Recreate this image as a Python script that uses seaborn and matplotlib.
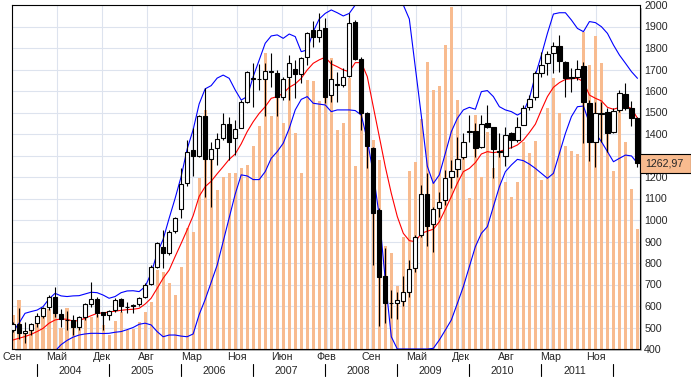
import numpy as np
import pandas as pd
import matplotlib
matplotlib.use("Agg")
import matplotlib.pyplot as plt
import matplotlib.transforms as mtransforms
from matplotlib.patches import Rectangle
import seaborn as sns

# monthly candles, Sep 2003 .. May 2012
opens = [490, 515, 473, 488, 520, 555, 594, 642, 563, 537, 535, 504, 550, 609, 633, 571, 560, 582, 633, 597,
         600, 609, 640, 702, 783, 876, 845, 947, 1050, 1171, 1326, 1299, 1484, 1282, 1333, 1380, 1445, 1380, 1430, 1550,
         1660, 1655, 1654, 1690, 1682, 1574, 1664, 1701, 1679, 1757, 1884, 1850, 1891, 1581, 1628, 1626, 1670, 1921, 1747, 1496,
         1333, 1047, 740, 612, 616, 625, 664, 775, 930, 1119, 981, 1054, 1093, 1198, 1236, 1291, 1410, 1414, 1338, 1450,
         1431, 1318, 1298, 1403, 1372, 1442, 1527, 1571, 1685, 1732, 1778, 1809, 1735, 1662, 1664, 1716, 1543, 1364, 1495, 1501,
         1408, 1512, 1585, 1519, 1473]
highs = [525, 590, 527, 523, 566, 597, 650, 690, 585, 577, 558, 555, 613, 710, 643, 574, 581, 636, 639, 620,
         608, 640, 709, 791, 899, 954, 953, 1016, 1240, 1372, 1426, 1488, 1612, 1364, 1403, 1496, 1481, 1465, 1558, 1695,
         1729, 1726, 1729, 1775, 1698, 1667, 1767, 1744, 1760, 1876, 1927, 1964, 1938, 1744, 1690, 1705, 1961, 1930, 1760, 1504,
         1341, 1054, 868, 674, 667, 740, 814, 930, 1163, 1220, 1062, 1132, 1233, 1279, 1388, 1406, 1488, 1450, 1488, 1535,
         1434, 1403, 1434, 1411, 1481, 1535, 1581, 1695, 1783, 1788, 1829, 1860, 1741, 1705, 1744, 1736, 1558, 1550, 1550, 1519,
         1519, 1605, 1639, 1553, 1481]
lows = [480, 445, 427, 465, 501, 543, 582, 550, 504, 489, 465, 489, 535, 597, 550, 488, 535, 574, 574, 566,
        566, 600, 636, 698, 775, 775, 837, 941, 1008, 1158, 1205, 1295, 1109, 1062, 1256, 1370, 1279, 1302, 1426, 1543,
        1527, 1605, 1484, 1620, 1484, 1558, 1558, 1566, 1636, 1721, 1806, 1830, 1543, 1550, 1550, 1617, 1664, 1744, 1419, 1240,
        791, 505, 519, 543, 538, 600, 640, 760, 923, 879, 853, 1016, 1070, 1147, 1202, 1285, 1364, 1295, 1333, 1426,
        1194, 1295, 1251, 1333, 1364, 1442, 1512, 1558, 1667, 1674, 1682, 1690, 1571, 1597, 1651, 1357, 1276, 1245, 1361, 1318,
        1403, 1504, 1512, 1437, 1248]
closes = [515, 475, 482, 516, 554, 589, 642, 566, 540, 533, 504, 550, 609, 631, 569, 557, 575, 630, 600, 594,
          603, 636, 696, 780, 891, 845, 943, 1008, 1168, 1315, 1299, 1484, 1282, 1329, 1375, 1445, 1364, 1422, 1550, 1688,
          1657, 1657, 1695, 1692, 1574, 1657, 1729, 1679, 1753, 1868, 1850, 1884, 1574, 1654, 1631, 1664, 1918, 1750, 1496, 1346,
          1031, 733, 612, 616, 628, 664, 771, 920, 1119, 972, 1050, 1085, 1194, 1229, 1282, 1364, 1414, 1333, 1446, 1431,
          1332, 1316, 1394, 1372, 1434, 1519, 1561, 1682, 1719, 1772, 1809, 1741, 1660, 1660, 1702, 1547, 1364, 1496, 1493, 1403,
          1507, 1589, 1519, 1473, 1262.97]

# trading volume, share of the panel height (0..100)
volume = [9.8, 14.2, 5.2, 6.2, 7.6, 9.4, 11.5, 11.3, 6.0, 11.8, 6.5, 9.4, 12.8, 9.4, 9.9, 7.0, 4.1, 8.2, 10.9, 5.5,
          5.7, 7.9, 10.9, 13.8, 23.0, 22.5, 19.1, 15.7, 23.9, 35.1, 33.9, 49.6, 69.5, 57.4, 46.2, 50.1, 51.1, 51.1, 52.5, 53.5,
          59.0, 64.8, 86.0, 67.7, 76.3, 65.8, 78.6, 62.9, 51.1, 78.2, 78.0, 72.2, 84.2, 84.5, 63.7, 65.8, 78.7, 53.2, 70.0, 63.7,
          60.8, 55.0, 30.0, 27.8, 18.3, 32.6, 51.8, 54.5, 66.8, 83.5, 75.3, 76.5, 88.4, 99.5, 72.4, 60.0, 43.8, 68.0, 50.1, 63.2,
          52.5, 56.9, 48.6, 44.3, 48.6, 60.3, 57.0, 60.6, 49.1, 70.0, 78.7, 68.5, 59.1, 57.6, 56.7, 92.2, 82.6, 91.0, 83.2, 62.8,
          51.8, 70.0, 60.3, 46.5, 34.8]

# bollinger bands as drawn
upper = [481, 520, 566, 574, 581, 597, 633, 659, 647, 644, 647, 648, 656, 664, 662, 651, 636, 644, 662, 670,
         671, 667, 690, 752, 845, 910, 1008, 1101, 1202, 1330, 1420, 1540, 1610, 1625, 1660, 1674, 1659, 1605, 1558, 1574,
         1667, 1744, 1822, 1856, 1861, 1845, 1865, 1853, 1783, 1791, 1876, 1935, 1961, 1977, 1964, 1949, 1961, 2000, 2000, 2000,
         2000, 2000, 2000, 2000, 2000, 2000, 1935, 1710, 1485, 1250, 1170, 1210, 1310, 1411, 1473, 1512, 1524, 1515, 1597, 1602,
         1574, 1527, 1512, 1504, 1488, 1504, 1566, 1674, 1767, 1868, 1958, 1964, 1964, 1930, 1891, 1876, 1923, 1918, 1899, 1868,
         1814, 1767, 1729, 1690, 1659]
middle = [442, 450, 458, 468, 481, 496, 520, 535, 540, 538, 530, 532, 543, 555, 566, 568, 572, 576, 580, 583,
          585, 589, 609, 636, 682, 729, 767, 830, 891, 954, 1020, 1110, 1155, 1180, 1215, 1248, 1282, 1307, 1354, 1411,
          1457, 1496, 1527, 1566, 1574, 1589, 1617, 1633, 1659, 1698, 1729, 1745, 1757, 1726, 1713, 1698, 1690, 1732, 1732, 1667,
          1527, 1388, 1248, 1124, 1016, 938, 904, 899, 938, 948, 957, 992, 1050, 1109, 1171, 1225, 1240, 1267, 1307, 1318,
          1313, 1318, 1329, 1336, 1349, 1372, 1407, 1446, 1512, 1574, 1617, 1639, 1654, 1657, 1659, 1643, 1581, 1566, 1554, 1524,
          1515, 1524, 1530, 1519, 1473]
lower = [300, 310, 320, 330, 340, 355, 370, 390, 420, 440, 455, 465, 470, 473, 473, 472, 473, 478, 481, 490,
         500, 515, 520, 512, 481, 457, 465, 465, 460, 457, 470, 560, 630, 710, 790, 900, 1010, 1120, 1210, 1205,
         1188, 1188, 1225, 1287, 1318, 1357, 1426, 1512, 1561, 1574, 1543, 1539, 1535, 1504, 1512, 1512, 1512, 1509, 1488, 1372,
         1217, 1016, 721, 457, 400, 400, 400, 400, 400, 400, 403, 442, 488, 535, 612, 690, 783, 876, 938, 969,
         1062, 1155, 1225, 1256, 1282, 1276, 1260, 1240, 1217, 1194, 1217, 1310, 1403, 1481, 1527, 1530, 1450, 1403, 1364, 1318,
         1271, 1287, 1302, 1298, 1264]

month_labels = ["Сен", "Май", "Дек", "Авг", "Мар", "Ноя", "Июн", "Фев", "Сен", "Май", "Дек", "Авг", "Мар", "Ноя"]
years = [2004, 2005, 2006, 2007, 2008, 2009, 2010, 2011]

df = pd.DataFrame({"open": opens, "high": highs, "low": lows, "close": closes,
                   "vol": volume, "upper": upper, "middle": middle, "lower": lower})
df["i"] = np.arange(len(df))

sns.set_style("white")
plt.rcParams["font.family"] = ["Liberation Sans", "DejaVu Sans"]
FS = 7.7
VOL_COLOR = "#f8bb8f"

W, H = 691, 383
fig = plt.figure(figsize=(W / 100, H / 100), dpi=100)
left, right, top, bottom = 11.7, 640, 5, 349
rect = [left / W, (H - bottom) / H, (right - left) / W, (bottom - top) / H]
fig.patches.append(Rectangle((rect[0] + 2 / W, rect[1] - 2 / H), rect[2], rect[3],
                             transform=fig.transFigure, facecolor="#a8a8a8", zorder=-1))
ax = fig.add_axes(rect)
ax.set_facecolor("white")

# volume in the background, scaled to the price panel
ax.bar(df["i"], df["vol"] * 16, bottom=400, width=0.52, color=VOL_COLOR, lw=0,
       antialiased=False, zorder=1)

sns.lineplot(data=df, x="i", y="upper", color="#0000ff", lw=0.8, ax=ax, zorder=2)
sns.lineplot(data=df, x="i", y="lower", color="#0000ff", lw=0.8, ax=ax, zorder=2)
sns.lineplot(data=df, x="i", y="middle", color="#ff0000", lw=0.8, ax=ax, zorder=2)

# candles
ax.vlines(df["i"], df["low"], df["high"], color="black", lw=0.8, zorder=3)
up = df["close"] >= df["open"]
dn = ~up
ax.bar(df["i"][up], (df["close"] - df["open"])[up].clip(lower=3), bottom=df["open"][up],
       width=0.72, facecolor="white", edgecolor="black", lw=0.8, zorder=4)
ax.bar(df["i"][dn], (df["open"] - df["close"])[dn].clip(lower=3), bottom=df["close"][dn],
       width=0.72, facecolor="black", edgecolor="black", lw=0.8, zorder=4)

ax.set_xlim(-0.22, 104.42)
ax.set_ylim(400, 2000)
ax.set_xlabel("")
ax.set_ylabel("")

ax.grid(True, color="#dde3ee", lw=0.8)
ax.set_axisbelow(True)
for s in ax.spines.values():
    s.set_visible(True)
    s.set_color("black")
    s.set_linewidth(0.8)

ax.yaxis.tick_right()
ax.set_yticks(range(400, 2001, 100))
ax.tick_params(axis="y", length=0, pad=3, labelsize=FS)

tick_pos = [-0.15 + 7.48 * k for k in range(len(month_labels))]
ax.set_xticks(tick_pos)
ax.set_xticklabels(month_labels)
ax.tick_params(axis="x", length=0, pad=2.2, labelsize=FS)

trans = mtransforms.blended_transform_factory(ax.transData, ax.transAxes)
for k, y in enumerate(years + [2012]):
    x0 = 4 + 12 * k
    ax.plot([x0, x0], [-0.044, -0.079], transform=trans, color="black", lw=0.8, clip_on=False)
    if y in years:
        ax.text(x0 + 5.5, -0.063, str(y), transform=trans, ha="center", va="center", fontsize=FS)

# last price marker, covering the 1300 tick label as in the source
last = df["close"].iloc[-1]
for lbl in ax.get_yticklabels():
    if lbl.get_text() == "1300":
        lbl.set_visible(False)
trans_y = mtransforms.blended_transform_factory(ax.transAxes, ax.transData)
ax.add_patch(Rectangle((1.0, last - 44), (W - right) / (right - left), 88, transform=trans_y,
                       facecolor=VOL_COLOR, edgecolor="black", lw=0.8, clip_on=False, zorder=5))
ax.text(1.008, last, f"{last:.2f}".replace(".", ","), transform=trans_y, ha="left", va="center",
        fontsize=FS, zorder=6)

fig.savefig("out.png", dpi=100)
